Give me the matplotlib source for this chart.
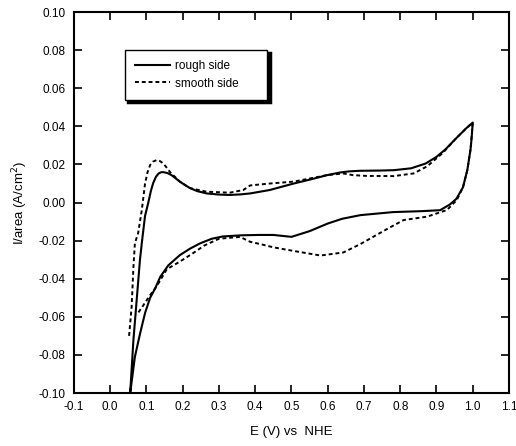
import matplotlib
matplotlib.use("Agg")
import matplotlib.pyplot as plt

# rough side: anodic sweep, then cathodic sweep back
rough_up_x = [0.055, 0.064, 0.073, 0.082, 0.088, 0.096, 0.105, 0.112, 0.118, 0.126, 0.133, 0.14, 0.146,
              0.158, 0.169, 0.18, 0.192, 0.206, 0.22, 0.24, 0.266, 0.3, 0.33, 0.36, 0.386, 0.44, 0.506,
              0.56, 0.598, 0.634, 0.66, 0.69, 0.74, 0.782, 0.83, 0.87, 0.9, 0.925, 0.954, 0.982, 1.0]
rough_up_y = [-0.1, -0.072, -0.051, -0.030, -0.0197, -0.007, 0.0, 0.006, 0.010, 0.0135, 0.0152, 0.0159,
              0.016, 0.0155, 0.0144, 0.0128, 0.011, 0.0092, 0.0076, 0.006, 0.0048, 0.0042, 0.004, 0.0043,
              0.0048, 0.0066, 0.010, 0.0125, 0.0144, 0.0158, 0.0164, 0.0167, 0.0168, 0.017, 0.018,
              0.0205, 0.024, 0.028, 0.0337, 0.039, 0.042]
rough_down_x = [1.0, 0.997, 0.994, 0.985, 0.973, 0.955, 0.937, 0.91, 0.86, 0.78, 0.69, 0.64, 0.6,
                0.55, 0.5, 0.45, 0.41, 0.36, 0.31, 0.28, 0.248, 0.22, 0.192, 0.16, 0.138, 0.124,
                0.11, 0.096, 0.082, 0.068, 0.055]
rough_down_y = [0.042, 0.034, 0.028, 0.017, 0.008, 0.002, -0.001, -0.004, -0.0045, -0.005, -0.0066,
                -0.0085, -0.011, -0.015, -0.018, -0.017, -0.017, -0.0172, -0.0178, -0.019, -0.0214,
                -0.0242, -0.0276, -0.033, -0.039, -0.045, -0.050, -0.058, -0.069, -0.081, -0.1]

# smooth side
smooth_up_x = [0.052, 0.059, 0.064, 0.068, 0.077, 0.087, 0.096, 0.103, 0.11, 0.118, 0.128, 0.137,
               0.146, 0.155, 0.165, 0.192, 0.22, 0.266, 0.33, 0.367, 0.386, 0.44, 0.506, 0.598,
               0.643, 0.67, 0.707, 0.782, 0.837, 0.874, 0.917, 0.954, 0.982, 1.0]
smooth_up_y = [-0.070, -0.0547, -0.0337, -0.0214, -0.016, -0.004, 0.010, 0.016, 0.0197, 0.0215,
               0.0223, 0.0218, 0.0206, 0.0185, 0.016, 0.011, 0.0076, 0.0057, 0.0052, 0.0066, 0.009,
               0.010, 0.011, 0.0144, 0.0153, 0.0144, 0.014, 0.0139, 0.0153, 0.019, 0.026, 0.0337,
               0.039, 0.042]
smooth_down_x = [1.0, 0.994, 0.985, 0.973, 0.956, 0.929, 0.874, 0.809, 0.772, 0.73, 0.69, 0.643,
                 0.58, 0.506, 0.45, 0.414, 0.386, 0.358, 0.3, 0.26, 0.229, 0.192, 0.156, 0.128,
                 0.11, 0.091, 0.073]
smooth_down_y = [0.042, 0.028, 0.017, 0.008, 0.0013, -0.0039, -0.0074, -0.0092, -0.013, -0.0175,
                 -0.0218, -0.0262, -0.0278, -0.0254, -0.0235, -0.0218, -0.0206, -0.018, -0.019,
                 -0.0225, -0.0265, -0.031, -0.035, -0.044, -0.0486, -0.054, -0.059]

xticks = [-0.1, 0.0, 0.1, 0.2, 0.3, 0.4, 0.5, 0.6, 0.7, 0.8, 0.9, 1.0, 1.1]
yticks = [-0.10, -0.08, -0.06, -0.04, -0.02, 0.00, 0.02, 0.04, 0.06, 0.08, 0.10]

plt.rcParams['font.family'] = ['Liberation Sans', 'DejaVu Sans']

fig = plt.figure(figsize=(5.16, 4.46), dpi=100)
ax = fig.add_axes([0.1434, 0.1188, 0.843, 0.854])

ax.plot(rough_up_x + rough_down_x, rough_up_y + rough_down_y, color='black', lw=1.5,
        label='rough side')
ax.plot(smooth_up_x + smooth_down_x, smooth_up_y + smooth_down_y, color='black', lw=1.4,
        ls=(0, (2, 1.5)), label='smooth side')

ax.set_xlim(-0.1, 1.1)
ax.set_ylim(-0.10, 0.10)
ax.set_xticks(xticks)
ax.set_yticks(yticks)
ax.set_xticklabels([f"{v:.1f}" for v in xticks])
ax.set_yticklabels([f"{v:.2f}" for v in yticks])
ax.tick_params(direction='in', length=6, width=1.2, top=True, right=True,
               labelsize=8.5, pad=6)
for s in ax.spines.values():
    s.set_linewidth(1.5)

ax.set_xlabel("E (V) vs  NHE", fontsize=9.5, labelpad=9)
ax.set_ylabel("I/area (A/cm$^2$)", fontsize=9.5, labelpad=6)

leg = ax.legend(loc='upper left', bbox_to_anchor=(0.117, 0.78, 0.327, 0.12), mode='expand',
                borderaxespad=0, fontsize=8.5, handlelength=3.0, handletextpad=0.4,
                borderpad=0.85, labelspacing=0.45, fancybox=False, edgecolor='black',
                shadow={'color': 'black', 'alpha': 1, 'lw': 2.5})
leg.get_frame().set_linewidth(1.0)
leg.get_frame().set_alpha(1)

fig.savefig("out.png", dpi=100)
